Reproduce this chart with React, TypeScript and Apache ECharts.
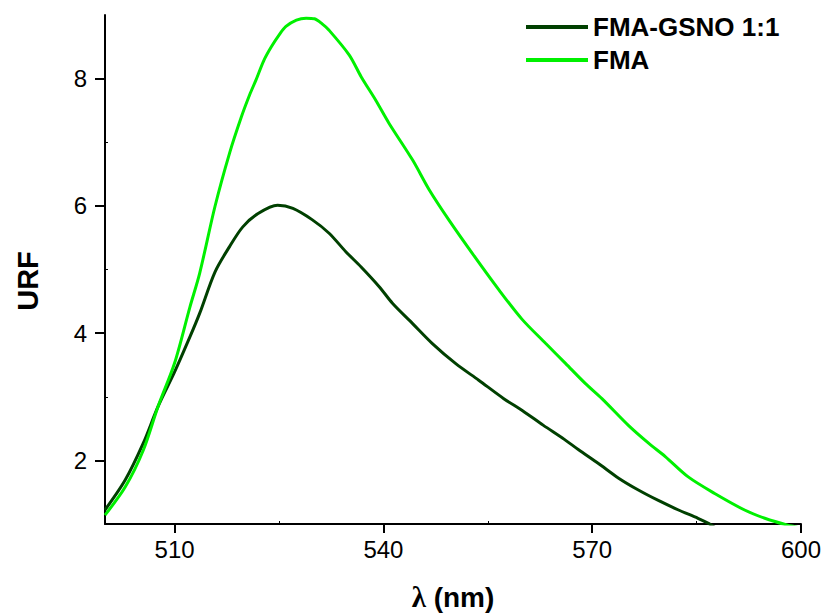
import React, { useEffect, useRef } from "react";
import * as echarts from "echarts";

const gsnoWavelengths = [500, 502.9, 505.5, 507.6, 510, 512.2, 513.6, 515.8, 517.9, 519.8, 522, 524.8, 527, 529.8, 532.2, 534.6, 536.8, 539.4, 541.3, 544.2, 547, 550.4, 553.7, 557.3, 560, 563, 566, 568, 570.9, 573.8, 576.7, 579.5, 582.4, 585.2, 586.7, 588];
const gsnoValues = [1.22, 1.69, 2.27, 2.84, 3.39, 3.94, 4.31, 4.96, 5.36, 5.67, 5.88, 6.01, 5.96, 5.78, 5.57, 5.28, 5.04, 4.73, 4.47, 4.15, 3.84, 3.52, 3.26, 2.97, 2.78, 2.55, 2.33, 2.17, 1.95, 1.72, 1.53, 1.37, 1.22, 1.09, 1.01, 0.92];

const fmaWavelengths = [500, 502.9, 505.5, 507.6, 510, 512.2, 513.6, 515.8, 517.9, 519.6, 520.8, 521.7, 522.8, 523.9, 525.1, 526, 527.5, 528.9, 530.1, 531.2, 532.2, 535.1, 536.8, 538.9, 540.8, 544.2, 546.6, 549.4, 552.8, 556.6, 559.9, 563.3, 566.2, 569, 571.4, 575.2, 578.1, 580.5, 583.8, 587.6, 591.9, 594.8, 598.1, 599.5];
const fmaValues = [1.14, 1.58, 2.16, 2.84, 3.53, 4.41, 4.94, 5.99, 6.83, 7.40, 7.75, 7.98, 8.28, 8.50, 8.70, 8.82, 8.92, 8.95, 8.94, 8.86, 8.76, 8.37, 8.03, 7.66, 7.30, 6.72, 6.25, 5.78, 5.25, 4.68, 4.22, 3.84, 3.52, 3.21, 2.97, 2.55, 2.27, 2.06, 1.74, 1.48, 1.22, 1.09, 0.98, 0.95];

const xMajorTicks = [510, 540, 570, 600];
const xMinorTicks = [525, 555, 585];
const yMajorTicks = [2, 4, 6, 8];
const yMinorTicks = [3, 5, 7];

const seriesNames = ["FMA-GSNO 1:1", "FMA"];
const seriesColors = ["#004000", "#00f000"];

const FONT = "'Liberation Sans', Arial, sans-serif";

export default function App() {
  const ref = useRef<HTMLDivElement>(null);
  useEffect(() => {
    if (!ref.current) return;
    const chart = echarts.init(ref.current, undefined, { renderer: "svg" });
    const gsnoData = gsnoWavelengths.map((x, i) => [x, gsnoValues[i]]);
    const fmaData = fmaWavelengths.map((x, i) => [x, fmaValues[i]]);
    const axisLine = { show: true, lineStyle: { color: "#000", width: 2 } };
    chart.setOption({
      animation: false,
      backgroundColor: "#fff",
      grid: { left: 105, top: 15, right: 21, bottom: 91, containLabel: false },
      legend: {
        orient: "vertical",
        left: 521,
        top: 9,
        itemWidth: 62,
        itemHeight: 4,
        itemGap: 7,
        icon: "rect",
        textStyle: { fontFamily: FONT, fontSize: 26, fontWeight: "bold", color: "#000", padding: [0, 0, 0, 0] },
        data: seriesNames,
      },
      xAxis: [
        {
          type: "value",
          min: 500,
          max: 600,
          axisLine,
          splitLine: { show: false },
          axisTick: { show: true, customValues: xMajorTicks, length: 9, inside: false, lineStyle: { color: "#000", width: 2 } },
          axisLabel: { customValues: xMajorTicks, fontFamily: FONT, fontSize: 24, color: "#000", margin: 13 },
        },
        {
          type: "value",
          min: 500,
          max: 600,
          position: "bottom",
          axisLine: { show: false },
          splitLine: { show: false },
          axisTick: { show: true, customValues: xMinorTicks, length: 3, inside: true, lineStyle: { color: "#000", width: 1 } },
          axisLabel: { show: false },
        },
      ],
      yAxis: [
        {
          type: "value",
          min: 1,
          max: 9,
          axisLine,
          splitLine: { show: false },
          axisTick: { show: true, customValues: yMajorTicks, length: 10, inside: false, lineStyle: { color: "#000", width: 2 } },
          axisLabel: { customValues: yMajorTicks, fontFamily: FONT, fontSize: 24, color: "#000", margin: 18 },
        },
        {
          type: "value",
          min: 1,
          max: 9,
          position: "left",
          axisLine: { show: false },
          splitLine: { show: false },
          axisTick: { show: true, customValues: yMinorTicks, length: 3, inside: true, lineStyle: { color: "#000", width: 1 } },
          axisLabel: { show: false },
        },
      ],
      graphic: [
        {
          type: "text",
          x: 28,
          y: 281,
          rotation: Math.PI / 2,
          style: { text: "URF", fontFamily: FONT, fontSize: 29, fontWeight: "bold", fill: "#000", textAlign: "center", textVerticalAlign: "middle" },
        },
        {
          type: "text",
          x: 453,
          y: 597,
          style: {
            text: "{l|λ} (nm)",
            fontFamily: FONT,
            fontSize: 28,
            fontWeight: "bold",
            fill: "#000",
            textAlign: "center",
            textVerticalAlign: "middle",
            rich: {
              l: { fontFamily: "'Liberation Serif', serif", fontSize: 29, fontWeight: "bold", fill: "#000" },
            },
          },
        },
      ],
      series: [
        {
          name: seriesNames[0],
          type: "line",
          data: gsnoData,
          showSymbol: false,
          smooth: 0.3,
          clip: true,
          color: seriesColors[0],
          lineStyle: { width: 3, color: seriesColors[0] },
        },
        {
          name: seriesNames[1],
          type: "line",
          data: fmaData,
          showSymbol: false,
          smooth: 0.3,
          clip: true,
          color: seriesColors[1],
          lineStyle: { width: 3, color: seriesColors[1] },
        },
      ],
    });
    return () => chart.dispose();
  }, []);
  return <div ref={ref} style={{ width: 824, height: 615, position: "absolute", left: 0, top: 0 }} />;
}
